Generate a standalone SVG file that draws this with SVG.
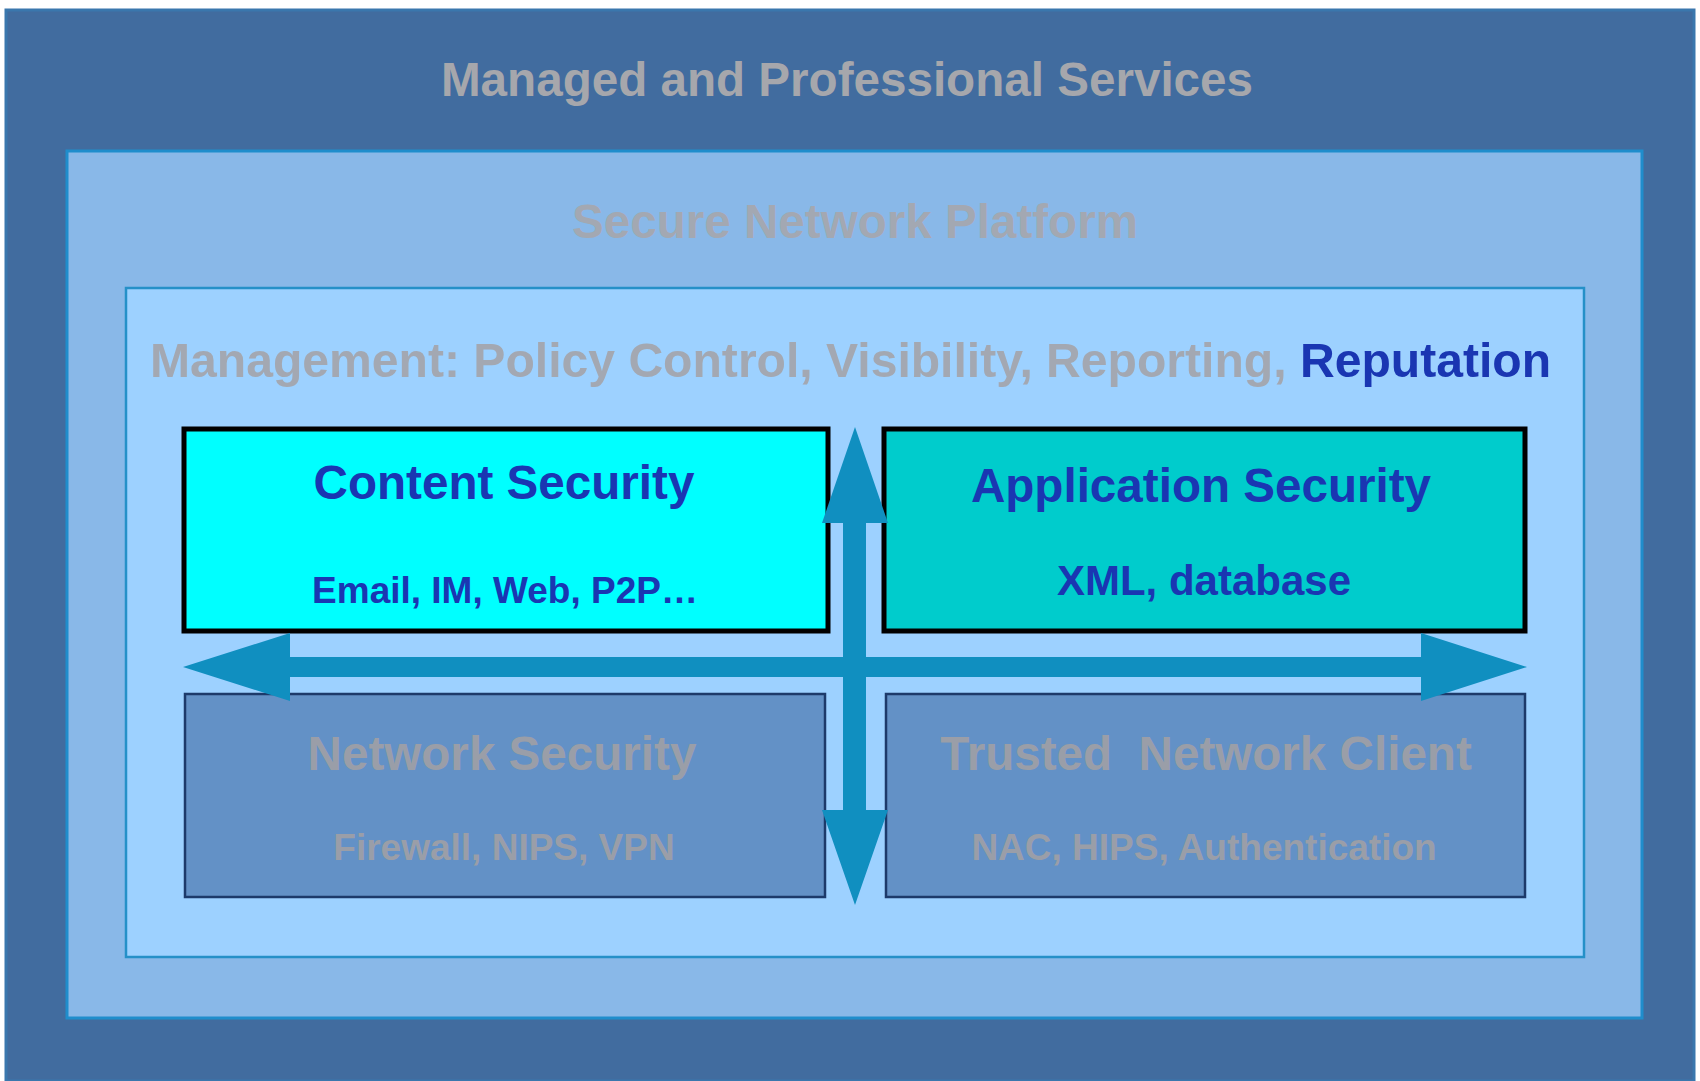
<svg xmlns="http://www.w3.org/2000/svg" width="1700" height="1081" viewBox="0 0 1700 1081">
  <style>
    text { font-family: "Liberation Sans", Arial, sans-serif; font-weight: bold; }
    .title { font-size: 47.6px; text-anchor: middle; }
    .sub { font-size: 37px; text-anchor: middle; }
    .gray { fill: #a6a7ac; }
    .gray2 { fill: #a3a8b2; }
    .blue { fill: #1a36b2; }
    .dimtext { fill: #9a9ea8; }
    .outer { fill: #416c9f; stroke: #3a77ad; stroke-width: 3; }
    .mid { fill: #89b8e8; stroke: #1f8dcc; stroke-width: 3; }
    .inner { fill: #9dd1ff; stroke: #2590c8; stroke-width: 2.5; }
    .hi { stroke: #000; stroke-width: 5; }
    .lo { fill: #6391c6; stroke: #1d3a6a; stroke-width: 2.5; }
    .arrow { fill: #108fc0; }
  </style>
  <rect x="0" y="0" width="1700" height="1081" fill="#ffffff"/>
  <g id="managed-services">
    <rect class="outer" x="6" y="10" width="1688" height="1071"/>
    <text class="title gray" x="847" y="96">Managed and Professional Services</text>
  </g>
  <g id="secure-network-platform">
    <rect class="mid" x="67" y="151" width="1575" height="867"/>
    <text class="title gray2" x="855" y="238">Secure Network Platform</text>
  </g>
  <g id="management">
    <rect class="inner" x="126" y="288" width="1458" height="669"/>
    <text x="150" y="377" style="font-size:48.1px" class="gray2">Management: Policy Control, Visibility, Reporting, <tspan class="blue">Reputation</tspan></text>
  </g>
  <g id="content-security">
    <rect class="hi" x="184" y="429" width="644" height="202" fill="#00ffff"/>
    <text class="title blue" x="504" y="499">Content Security</text>
    <text class="sub blue" x="505" y="603">Email, IM, Web, P2P…</text>
  </g>
  <g id="application-security">
    <rect class="hi" x="884" y="429" width="641" height="202" fill="#00cccc"/>
    <text class="title blue" x="1201" y="502">Application Security</text>
    <text class="blue" x="1204" y="595" style="font-size:42px;text-anchor:middle">XML, database</text>
  </g>
  <g id="network-security">
    <rect class="lo" x="185" y="694" width="640" height="203"/>
    <text class="title dimtext" x="502" y="770">Network Security</text>
    <text class="sub dimtext" x="504" y="860">Firewall, NIPS, VPN</text>
  </g>
  <g id="trusted-network-client">
    <rect class="lo" x="886" y="694" width="639" height="203"/>
    <text class="title dimtext" x="1206" y="770" style="white-space:pre" xml:space="preserve">Trusted  Network Client</text>
    <text class="sub dimtext" x="1204" y="860">NAC, HIPS, Authentication</text>
  </g>
  <g id="connectors">
    <polygon class="arrow" points="183,667 290,633 290,657 1421,657 1421,633 1527,667 1421,701 1421,677 290,677 290,701"/>
    <polygon class="arrow" points="855,427 888,523 866,523 866,810 888,810 855,905 822,810 843,810 843,523 822,523"/>
  </g>
</svg>
